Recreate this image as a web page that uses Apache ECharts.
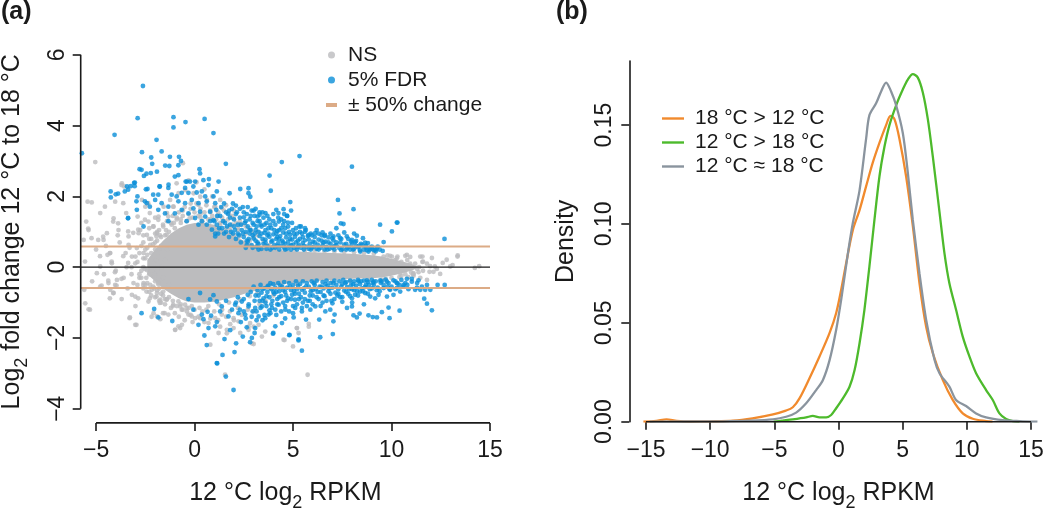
<!DOCTYPE html>
<html><head><meta charset="utf-8">
<script src="https://cdn.jsdelivr.net/npm/echarts@6/dist/echarts.min.js"></script>
<style>html,body{margin:0;padding:0;background:#fff}#c{width:1050px;height:509px}</style>
</head><body><div id="c"></div>
<script>
// ---------- Panel (a): MA plot ----------
const aXTicks = [-5, 0, 5, 10, 15];
const aYTicks = [-4, -2, 0, 2, 4, 6];
const changeLevels = [0.585, -0.585];   // log2(1.5)
// dense non-significant core (upper / lower envelope)
const coreX  = [-2.4,-2.0,-1.6,-1.2,-0.8,-0.4,0.0,0.5,1.0,1.5,2.0,2.5,3.0,3.5,4.0,5.0,6.0,7.0,8.0,9.0,9.5,10.0,10.5,11.0,11.3];
const coreHi = [0.2,0.5,0.75,0.95,1.1,1.2,1.25,1.25,1.2,1.05,0.9,0.75,0.62,0.55,0.5,0.45,0.42,0.4,0.38,0.34,0.3,0.24,0.17,0.1,0.02];
const coreLo = [-0.2,-0.4,-0.6,-0.75,-0.88,-0.97,-1.0,-1.0,-0.98,-0.92,-0.85,-0.76,-0.68,-0.6,-0.52,-0.44,-0.39,-0.36,-0.33,-0.31,-0.29,-0.24,-0.18,-0.1,-0.03];
const nsPts = [
[-5.04,2.97],[-5.43,1.85],[-5.22,1.83],[-5.5,1.29],[-5.38,1.05],[-5.63,0.77],[-5.55,-1.02],[-5.38,-1.19],[-4.96,-0.17],[-4.79,1.53],[-4.62,0.77],[-4.45,0.96],[-4.42,0.35],[-4.28,0.4],[-4.37,-0.45],[-4.28,-0.64],[-4.11,-0.73],[-4.03,-0.5],[-3.94,-0.36],[-4.2,0.11],[-4.79,0.02],[-4.79,-0.55],[-4.03,1.85],[-4.11,1.38],[-3.86,1.05],[-3.69,2.37],[-3.57,2.28],[-3.47,1.53],[-3.35,0.87],[-3.35,0.63],[-3.3,-1.44],[-3.01,-1.63],[-3.18,-0.78],[-3.01,-0.83],[-3.01,0.11],[-3.18,0.3],[-2.93,0.54],[-2.84,0.96],[-2.76,1.05],[-2.89,1.43],[-2.67,1.9],[-2.5,1.71],[-2.34,1.29],[-2.42,0.91],[-2.25,0.63],[-2.59,0.4],[-2.42,-0.08],[-2.59,-0.45],[-2.17,-0.64],[-2.34,-0.97],[-2.08,-1.3],[-1.91,-1.39],[-1.74,-1.47],[-1.52,-1.3],[-0.98,-1.77],[-0.73,-1.72],[-0.64,-1.63],[-1.91,-0.73],[-1.74,-0.92],[-1.83,-0.45],[-2.0,-0.17],[-1.95,0.21],[-1.74,0.54],[-1.91,0.96],[-2.08,1.15],[-1.83,1.43],[-1.57,1.71],[-1.4,1.53],[-1.24,1.9],[-1.07,1.71],[-0.81,2.09],[-0.47,2.18],[-0.59,2.94],[-0.05,2.09],[0.29,1.99],[0.2,1.76],[0.63,1.9],[1.05,1.71],[1.39,1.67],[1.73,1.53],[1.98,1.38],
[-5.4,1.09],[-5.23,0.82],[-4.89,0.77],[-4.64,0.86],[-4.55,1.71],[-4.13,1.29],[-3.88,1.24],[-3.71,2.32],[-3.62,1.81],[-3.37,1.01],[-3.11,0.97],[-2.86,1.06],[-2.52,1.34],[-2.35,1.81],[-2.27,1.53],[-2.1,1.15],[-1.93,0.87],[-1.84,1.34],[-1.59,1.15],[-1.42,0.92],[-1.33,1.43],[-1.16,1.2],[-1.08,1.71],[-0.91,2.37],[-4.3,0.4],[-4.21,0.16],[-4.8,0.31],[-5.56,0.16],[-3.62,0.31],[-3.37,0.12],
[-5.6,-0.64],[-5.31,-1.2],[-4.72,-0.52],[-4.3,-0.88],[-4.13,-0.73],[-3.96,-0.52],[-3.28,-1.42],[-2.95,-1.63],[-2.86,-0.88],[-2.6,-0.5],[-2.44,-0.69],[-2.27,-0.88],[-2.18,-1.4],[-1.93,-0.83],[-1.76,-1.01],[-1.59,-0.69],[-1.42,-0.92],[-1.33,-1.34],[-0.99,-1.77],[-0.82,-1.67],[-1.08,-1.06],[-0.82,-0.97],[-0.65,-1.2],[-0.48,-1.06],[-0.31,-1.34],[-0.14,-1.1],[0.03,-1.44],[-3.2,-0.2],[-3.45,0.0],[-4.04,-0.14],[-4.38,-0.38],[-3.71,-0.33],[-2.02,-0.24],[-1.84,-0.48],[-2.52,-0.05],
[-0.73,-1.11],[-0.39,-1.25],[-0.14,-1.39],[0.29,-1.44],[0.71,-1.58],[0.8,-2.19],[1.22,-1.86],[1.64,-1.77],[1.98,-1.72],[2.32,-1.86],[2.74,-1.77],[2.91,-2.15],[3.0,-1.68],[3.42,-1.96],[4.52,-2.05],[5.0,-2.24],[5.74,-3.04],[5.19,-1.72],[5.28,-1.86],[5.8,-1.6],
[1.3,-1.68],[1.81,-1.61],[1.98,-1.44],[2.74,-1.68],[2.82,-1.58],[3.0,-2.17],[1.64,-1.87],[5.2,-1.72],[5.8,-1.68],[4.57,-2.06],[1.55,-3.04],[1.05,-1.44],[1.38,-1.34],[2.23,-1.53],[3.25,-1.63],[3.59,-1.82],
[0.5,2.2],[0.9,2.0],[1.3,1.9],[1.6,1.75],[2.0,1.6],[2.3,1.3],[2.6,1.15],[2.9,1.0],[3.2,0.9],[0.1,2.4],[-0.3,2.45],[0.8,1.55],[1.2,1.45],[1.5,1.3],[1.9,1.2],[2.2,1.1],[-0.2,1.8],[0.3,1.5],[-0.6,1.6],[-0.9,1.4],
[-2.8,0.4],[-2.6,0.7],[-2.4,0.55],[-2.3,0.8],[-2.1,0.65],[-2.0,0.95],[-1.9,0.75],[-1.8,1.05],[-1.7,0.85],[-1.6,1.2],[-1.5,0.9],[-1.4,1.3],[-1.3,1.0],[-1.2,1.25],[-1.1,1.45],[-1.0,1.1],[-0.9,1.35],[-0.8,1.55],[-0.7,1.25],[-0.6,1.45],[-0.5,1.7],[-0.4,1.3],[-0.3,1.5],[-0.2,1.65],[-0.1,1.4],[0.0,1.55],[0.1,1.8],[0.2,1.45],[0.3,1.65],[0.4,1.3],[0.5,1.55],[0.6,1.75],[0.7,1.35],[0.8,1.6],[0.9,1.45],[1.0,1.7],[1.1,1.35],[1.2,1.55],[1.3,1.2],[1.4,1.4],[1.5,1.6],[1.6,1.1],[1.7,1.35],[1.8,1.15],[1.9,1.45],[2.0,0.9],[2.1,1.25],[2.2,1.05],[2.4,1.2],[2.6,0.95],[2.8,1.1],[3.0,0.85],[3.2,1.0],[3.5,0.75],[3.8,0.62],
[-2.8,-0.3],[-2.6,-0.6],[-2.4,-0.45],[-2.3,-0.7],[-2.1,-0.55],[-2.0,-0.85],[-1.9,-0.65],[-1.8,-0.95],[-1.6,-0.8],[-1.5,-1.05],[-1.3,-0.85],[-1.2,-1.15],[-1.1,-0.95],[-1.0,-1.3],[-0.9,-1.1],[-0.8,-1.4],[-0.6,-1.2],[-0.5,-1.5],[-0.4,-1.15],[-0.2,-1.35],[-0.1,-1.55],[0.0,-1.2],[0.2,-1.4],[0.4,-1.25],[0.5,-1.55],[0.6,-1.2],[0.8,-1.45],[1.0,-1.25],[1.2,-1.5],[1.4,-1.2],[1.6,-1.4],[1.8,-1.25],[2.0,-1.5],[2.2,-1.15],[2.4,-1.35],[2.7,-1.2],[3.0,-1.25],[3.3,-1.05],[3.6,-0.95],[4.0,-0.8],
[-3.3,0.55],[-3.1,-0.45],[-2.9,0.15],[-2.7,-0.1],[-2.5,0.25],[-3.4,-0.6],[-3.9,0.9],[-3.7,-0.9],[-4.5,0.6],[-4.6,-0.2],[-5.0,0.5],[-5.2,-0.4],[-3.0,-1.1],[-2.7,1.25],[-2.0,1.4],[-1.6,-1.3],
[-3.0,0.3],[-2.8,-0.2],[-2.7,0.6],[-2.6,0.0],[-2.5,-0.5],[-2.4,0.35],[-2.3,-0.2],[-2.2,0.8],[-2.1,0.1],[-2.0,-0.4],[-2.0,0.5],[-1.9,-0.1],[-1.85,0.3],[-1.8,-0.6],[-1.7,0.0],[-1.7,0.6],[-1.6,-0.3],[-1.5,0.2],[-1.5,-0.9],[-1.4,0.5],[-1.3,-0.5],[-2.6,0.9],[-2.3,1.1],[-2.2,-0.8],[-1.9,1.0],[-1.7,-1.0],[-2.9,-0.5],[-3.2,0.0],[-3.5,0.4],[-3.6,-0.3],[-3.8,0.7],[-4.0,-0.1],
[9.5,-0.35],[10.0,-0.3],[10.5,-0.25],[11.0,-0.15],[10.8,0.2],[11.2,0.1],[11.4,0.0],
[3.2,0.66],[3.6,0.6],[4.1,0.56],[4.6,0.52],[5.1,0.5],[5.6,0.48],[6.1,0.47],[6.6,0.45],[7.1,0.44],[7.6,0.43],[8.1,0.42],[8.6,0.4],[9.1,0.38],[9.8,0.33],[10.3,0.3],
[3.2,-0.72],[3.8,-0.6],[4.4,-0.52],[5.2,-0.47],[6.1,-0.42],[7.0,-0.4],[7.9,-0.37],[8.8,-0.35],[9.7,-0.33],[10.4,-0.28],[11.1,-0.2],[11.6,-0.1],[11.8,0.1],[12.3,-0.05],[12.6,0.12],
[-2.6,0.25],[-2.7,-0.3],[-2.5,0.5],[-2.45,-0.3],[-2.2,0.4],[-2.25,-0.5],[-2.0,0.7],[-2.05,-0.6],[-1.75,0.9],[-1.7,-0.75],[-1.45,1.05],[-1.4,-0.9],[-1.05,1.25],[-1.1,-1.1],[-0.7,1.35],[-0.7,-1.05],[-0.25,1.38],[-0.3,-1.15],[0.3,1.4],[0.25,-1.15],[0.8,1.35],[0.7,-1.1],[1.3,1.25],[1.25,-1.05],[1.8,1.05],[1.75,-1.0],[2.3,0.88],[2.3,-0.92],[2.8,0.75],[2.8,-0.82],
[10.78,0.35],[11.57,0.3],[11.57,0.15],[11.93,-0.13],[12.13,-0.13],[12.47,-0.19],[13.1,0.06],[13.36,0.33],[14.45,0.03],[10.02,0.3],[10.27,0.25],[10.5,0.15],[10.95,0.1],[11.3,-0.05],[11.37,-0.14],[11.12,-0.24],[10.86,-0.28],[11.96,0.03],[12.2,0.02],[11.8,-0.36],[11.46,-0.3],[11.12,-0.17],[10.7,-0.2],[10.44,-0.17],[12.98,0.02],[9.93,0.32],[10.19,0.2],[10.7,0.32],[10.95,0.29],[11.46,0.3],[11.6,0.16],[12.05,0.26],[12.8,0.21],[13.35,0.3],[14.23,-0.02],[9.6,0.3],[9.43,0.2]
];
const fdrUpper = [
[-5.72,3.22],[-4.06,3.74],[-2.62,5.12],[-2.89,4.21],[-1.07,4.24],[-1.07,3.95],[-0.46,4.1],[0.51,4.19],[0.96,3.79],[-1.93,3.6],[-2.67,3.25],[-1.67,3.27],[-2.2,3.1],[-1.25,3.12],[-0.79,3.12],[-0.69,3.0],[-2.15,2.92],[-1.49,2.87],[-0.82,2.88],[-1.28,2.86],[-2.79,2.77],[-2.69,2.75],[-1.91,2.7],[-2.57,2.58],[-2.44,2.64],[-2.22,2.66],[0.25,2.77],[0.28,2.65],[1.59,2.92],[5.33,3.14],[4.43,2.97],[7.99,2.84],[3.81,2.59],
[-0.39,2.42],[-0.45,2.42],[-0.23,2.42],[0.03,2.42],[0.45,2.46],[0.73,2.49],[1.22,2.42],[-3.03,2.39],[-3.43,2.28],[-4.26,2.14],[-4.25,1.97],[-4.0,2.06],[-3.88,2.08],[-3.54,2.14],[-3.37,2.19],[-3.24,2.29],[-3.07,2.38],[-3.04,2.29],[-2.47,2.2],[-2.39,2.21],[-1.78,2.28],[-1.32,2.33],[-1.0,2.56],[-0.82,2.6],[-2.1,2.05],[-1.84,2.05],[-2.0,1.9],[-1.76,2.28],[-1.33,2.24],[-0.06,2.28],[-0.48,2.24],[0.71,2.32],[-1.16,2.05],[-0.91,2.0],[-0.65,2.1],[-0.31,2.1],[0.11,2.11],[0.37,2.14],[0.54,2.0],[-0.82,1.86],[-0.48,1.81],[-0.14,1.9],[0.2,1.81],[0.62,1.86],[0.96,2.0],[1.05,1.81],[-1.67,1.81],[-1.33,1.71],[-2.27,1.71],[-2.52,1.86],[-2.9,2.0],[-3.37,1.39],[-2.95,1.86],[-1.0,1.52],[-0.65,1.62],[-0.31,1.52],[-0.06,1.66],[0.28,1.57],[0.54,1.43],[0.79,1.57],[0.96,1.33],[0.03,1.39],[-0.4,1.3],[-1.33,1.3],[-1.5,1.52],[-1.84,1.62],[0.62,1.2],[0.88,1.06],[1.05,0.87],[0.2,1.2],[0.37,1.3],[1.13,1.2],[0.79,1.3],
[2.32,2.21],[2.74,2.23],[2.74,2.09],[2.83,1.99],[3.87,2.16],[1.78,2.09],[1.13,2.14],[4.86,1.84],[4.15,1.62],[4.52,1.64],[4.55,1.5],[4.26,1.53],[4.74,1.26],[4.7,1.45],[4.28,1.29],[7.28,1.9],[7.36,1.52],[7.56,1.22],[8.07,1.64],[3.0,1.6],[3.2,1.43],[3.3,1.48],[3.6,1.53],[2.5,1.41],[2.1,1.74],[1.76,1.6],[-3.38,1.38],[-2.93,1.62],[-2.42,1.81],[-2.59,1.15],[10.27,1.26],[9.42,1.2],[10.02,1.01],[12.69,0.8],[7.43,1.24],[10.3,1.26],[9.6,0.71],[8.24,0.89],[8.55,0.82],[8.15,0.71],[8.66,0.69],[8.92,0.55],[9.17,0.5],[8.41,0.44],[8.83,0.44],[5.33,1.15],[5.61,1.1],[5.78,0.91],[6.12,0.96],[6.62,0.91],[7.05,0.87],[7.39,0.82],[7.73,0.87],[7.99,0.77],
[2.6,0.55],[2.7,0.72],[2.8,0.95],[2.9,0.62],[3.0,0.81],[3.1,1.05],[3.15,0.58],[3.2,0.7],[3.3,0.88],[3.35,1.2],[3.4,0.52],[3.5,0.66],[3.55,0.97],[3.6,0.78],[3.7,0.6],[3.75,1.1],[3.8,0.86],[3.85,0.5],[3.9,0.72],[4.0,0.93],[4.05,0.63],[4.1,0.55],[4.15,0.8],[4.2,1.02],[4.25,0.68],[4.3,0.5],[4.35,0.88],[4.4,0.6],[4.45,0.75],[4.5,0.98],[4.55,0.55],[4.6,0.66],[4.65,0.84],[4.7,0.52],[4.75,0.72],[4.8,0.6],[4.85,0.92],[4.9,0.5],[4.95,0.78],[5.0,0.64],[5.05,0.55],[5.1,0.86],[5.15,0.7],[5.2,0.5],[5.3,0.62],[5.35,0.8],[5.4,0.55],[5.45,0.95],[5.5,0.68],[5.55,0.5],[5.6,0.76],[5.7,0.58],[5.75,0.88],[5.8,0.52],[5.85,0.66],[5.9,0.5],[6.0,0.72],[6.05,0.58],[6.1,0.85],[6.2,0.52],[6.25,0.64],[6.3,0.78],[6.4,0.55],[6.45,0.9],[6.5,0.62],[6.6,0.5],[6.65,0.72],[6.7,0.57],[6.8,0.84],[6.85,0.52],[6.9,0.66],[7.0,0.55],[7.05,0.76],[7.1,0.5],[7.2,0.62],[7.3,0.9],[7.35,0.54],[7.4,0.7],[7.5,0.52],[7.6,0.64],[7.7,0.5],[7.8,0.8],[7.85,0.58],[7.9,0.5],[8.0,0.66],[8.1,0.52],[8.2,0.74],[8.3,0.56],[8.4,0.48],[8.5,0.62],[8.6,0.5],[8.7,0.55],[8.8,0.68],[8.9,0.5],[9.0,0.58],[9.1,0.48],[9.25,0.52],[9.4,0.5],[9.55,0.46],
[1.0,1.3],[1.1,1.62],[1.2,0.95],[1.3,1.45],[1.4,1.1],[1.5,1.8],[1.55,1.25],[1.6,1.0],[1.7,1.5],[1.75,0.85],[1.8,1.2],[1.9,1.65],[1.95,0.95],[2.0,1.35],[2.05,1.05],[2.1,0.8],[2.15,1.55],[2.2,1.2],[2.25,0.9],[2.3,1.4],[2.35,0.7],[2.4,1.05],[2.45,1.7],[2.5,0.85],[2.55,1.25],[2.6,1.0],[2.65,1.5],[2.7,1.15],[2.75,0.8],[2.8,1.35],[2.85,1.05],[2.9,1.6],[2.95,0.9],[3.0,1.2],[3.05,1.45],[3.1,0.75],[3.2,1.3],[3.25,1.0],[3.3,1.55],[3.4,1.15],[3.45,0.8],[3.5,1.4],[3.6,1.05],[3.65,1.25],[3.7,0.9],[3.8,1.35],[3.9,1.1],[4.0,1.5],[4.1,1.2],[4.2,0.85],[4.3,1.05],[4.4,1.35],[4.5,1.2],[4.6,1.1],[4.7,1.45],[4.8,1.0],[4.9,1.6],[5.0,1.05],[5.2,0.95],[5.4,1.15],[5.6,1.0],[5.9,0.95],[6.2,1.05],[6.5,0.98],[6.9,0.95],[7.2,1.1],[7.6,0.98],[8.1,0.95],
[1.05,0.95],[1.15,1.45],[1.25,1.1],[1.35,1.7],[1.45,1.3],[1.5,0.95],[1.6,1.55],[1.65,1.15],[1.8,1.4],[1.85,1.0],[1.95,1.8],[2.0,1.15],[2.1,1.5],[2.2,0.95],[2.3,1.65],[2.35,1.2],[2.45,0.95],[2.5,1.55],[2.6,1.3],[2.65,0.75],[2.7,1.7],[2.8,1.05],[2.85,1.45],[2.95,1.25],[3.05,0.95],[3.1,1.65],[3.15,1.15],[3.25,0.65],[3.3,1.3],[3.4,0.95],[3.45,1.55],[3.55,1.2],[3.6,0.7],[3.7,1.45],[3.75,0.95],[3.85,1.2],[3.95,0.75],[4.0,1.3],[4.05,1.05],[4.15,0.95],[4.25,1.4],[4.3,0.8],[4.4,1.1],[4.5,0.7],[4.55,1.3],[4.65,0.95],[4.75,1.15],[4.85,0.8],[4.95,1.25],[5.05,0.95],[5.15,1.1],[5.25,0.75],[5.35,1.0],[5.5,0.85],[5.65,1.05],[5.8,0.78],[5.95,0.9],[6.1,0.7],[6.3,0.95],[6.45,0.75],[6.6,0.88],[6.8,0.7],[7.0,0.82],[7.2,0.7],[7.45,0.8],[7.7,0.66],[7.95,0.72],[8.2,0.6],[8.45,0.66],[8.7,0.6],[9.0,0.52],[9.3,0.58],
[2.65,0.62],[2.95,0.55],[3.25,0.5],[3.65,0.52],[3.95,0.55],[4.2,0.6],[4.6,0.5],[4.9,0.62],[5.25,0.58],[5.55,0.6],[5.95,0.55],[6.3,0.5],[6.55,0.7],[6.75,0.5],[7.1,0.6],[7.45,0.48],[7.75,0.55],[8.05,0.5],[8.35,0.6],[8.75,0.48],[9.2,0.45]
];
const fdrLower = [
[-2.69,-1.3],[-2.05,-1.18],[-1.84,-1.42],[-1.13,-1.52],[-0.31,-0.9],[-0.06,-1.2],[0.2,-1.63],[0.28,-0.73],[0.45,-1.47],[0.5,-1.93],[0.62,-2.2],[0.66,-1.26],[0.71,-1.72],[0.84,-1.37],[0.96,-0.79],[1.05,-1.67],[1.13,-1.55],[1.13,-2.71],[0.79,-0.91],[0.37,-1.34],
[1.15,-2.72],[1.42,-2.48],[1.59,-3.09],[1.98,-3.47],[2.03,-2.4],[2.11,-2.15],[1.52,-2.03],[1.81,-1.78],[2.45,-1.96],[2.82,-2.12],[2.91,-2.0],[3.05,-1.86],[3.08,-1.72],[3.98,-1.88],[4.81,-1.92],[5.28,-2.07],[5.45,-2.36],[6.38,-1.98],[7.02,-1.89],[5.03,-1.42],[5.66,-1.48],[6.33,-1.48],[7.05,-1.53],[4.1,-1.67],[4.44,-1.58],[3.59,-1.44],[3.76,-1.34],[3.25,-1.39],[2.57,-1.34],[2.23,-1.3],[1.72,-1.39],[1.3,-1.25],[1.13,-0.97],[1.38,-1.11],[2.06,-1.06],[2.4,-0.97],[2.74,-1.11],[3.08,-1.15],[3.42,-1.11],[3.93,-1.15],[4.27,-1.06],[4.61,-1.2],[5.11,-1.15],[5.45,-1.25],[5.88,-1.2],[6.13,-1.11],[6.64,-1.25],[6.89,-1.2],[7.11,-1.34],[7.74,-1.15],[7.99,-1.11],[4.82,-1.91],[5.28,-2.04],[4.0,-1.86],
[8.24,-1.42],[8.07,-1.36],[8.38,-1.31],[8.83,-1.36],[9.05,-1.41],[9.26,-1.42],[9.51,-1.27],[9.9,-1.44],[10.41,-1.23],[9.85,-1.14],[12.05,-1.22],[11.8,-1.03],[11.66,-0.89],[12.34,-0.5],[12.7,-0.5],[11.97,-0.64],[11.71,-0.64],[11.46,-0.64],[11.2,-0.64],[11.37,-0.37],[11.03,-0.41],[10.78,-0.33],[10.61,-0.5],[10.27,-0.59],[9.93,-0.64],[9.6,-0.59],[9.34,-0.78],[9.17,-0.88],[8.92,-0.83],[8.66,-0.73],[8.4,-0.69],[8.15,-0.78],[7.99,-0.88],[9.77,-0.83],[10.1,-0.78],[10.44,-0.69],[10.86,-0.62],[11.29,-0.58],[11.54,-0.55],[10.1,-0.37],[9.77,-0.41],[9.43,-0.37],[9.09,-0.41],[8.75,-0.37],[8.32,-0.4],[10.27,-0.45],[11.03,-0.33],
[3.0,-0.55],[3.1,-0.8],[3.2,-0.65],[3.3,-0.95],[3.35,-0.5],[3.4,-0.72],[3.5,-0.88],[3.55,-0.6],[3.6,-1.0],[3.7,-0.7],[3.75,-0.52],[3.8,-0.85],[3.9,-0.62],[3.95,-0.95],[4.0,-0.48],[4.05,-0.75],[4.1,-0.58],[4.2,-0.9],[4.25,-0.45],[4.3,-0.68],[4.4,-0.82],[4.45,-0.55],[4.5,-1.0],[4.55,-0.42],[4.6,-0.7],[4.7,-0.58],[4.75,-0.88],[4.8,-0.45],[4.9,-0.65],[4.95,-0.78],[5.0,-0.5],[5.1,-0.92],[5.15,-0.4],[5.2,-0.62],[5.3,-0.75],[5.35,-0.48],[5.4,-0.85],[5.5,-0.4],[5.55,-0.6],[5.6,-0.72],[5.7,-0.45],[5.75,-0.95],[5.8,-0.55],[5.9,-0.68],[5.95,-0.4],[6.0,-0.8],[6.1,-0.5],[6.15,-0.62],[6.2,-0.38],[6.3,-0.9],[6.35,-0.55],[6.4,-0.7],[6.5,-0.42],[6.55,-0.6],[6.6,-0.82],[6.7,-0.38],[6.75,-0.52],[6.8,-0.68],[6.9,-0.45],[6.95,-0.95],[7.0,-0.58],[7.1,-0.38],[7.15,-0.72],[7.2,-0.5],[7.3,-0.62],[7.35,-0.4],[7.4,-0.85],[7.5,-0.48],[7.55,-0.36],[7.6,-0.66],[7.7,-0.42],[7.75,-0.56],[7.8,-0.75],[7.9,-0.38],[7.95,-0.5],[8.0,-0.62],[8.1,-0.4],[8.2,-0.52],[8.3,-0.36],[8.4,-0.48],[8.5,-0.6],[8.6,-0.38],[8.7,-0.5],[8.8,-0.42],[8.9,-0.62],[9.0,-0.36],[9.1,-0.5],[9.2,-0.4],[9.3,-0.58],[9.45,-0.44],[9.6,-0.5],[9.7,-0.35],[9.85,-0.45],[10.0,-0.55],[10.2,-0.4],[10.4,-0.5],[10.5,-0.36],[10.7,-0.45],
[3.45,-0.62],[3.65,-0.82],[3.85,-0.45],[4.15,-0.7],[4.35,-0.52],[4.65,-0.8],[4.85,-0.55],[5.05,-0.68],[5.25,-0.52],[5.45,-0.64],[5.65,-0.55],[5.85,-0.8],[6.05,-0.45],[6.25,-0.7],[6.45,-0.55],[6.65,-0.48],[6.85,-0.6],[7.05,-0.45],[7.25,-0.8],[7.45,-0.55],[7.65,-0.45],[7.85,-0.62],[8.05,-0.48],[8.25,-0.68],[8.45,-0.4],[8.65,-0.56],[8.85,-0.5],[9.05,-0.45],[9.25,-0.65],[9.5,-0.4],[9.9,-0.62],[10.3,-0.46],[10.6,-0.55],
[1.6,-0.95],[1.9,-1.2],[2.2,-0.85],[2.5,-1.25],[2.7,-0.78],[2.9,-1.4],[2.35,-1.55],[2.65,-1.7],[3.15,-1.25],[3.45,-1.5],[3.8,-1.22],[4.15,-1.35],[4.6,-1.45],[5.0,-1.3],[5.5,-1.0],[6.0,-1.05],[6.5,-1.0],[7.0,-1.02],[7.5,-0.98],[8.0,-1.0],[8.6,-1.05],
[2.1,-1.0],[2.3,-1.2],[2.5,-0.9],[2.6,-1.45],[2.75,-1.05],[2.85,-0.7],[2.95,-1.25],[3.05,-0.95],[3.15,-1.5],[3.25,-0.8],[3.35,-1.15],[3.45,-0.95],[3.55,-1.35],[3.65,-1.1],[3.7,-0.55],[3.85,-1.3],[3.9,-1.05],[4.0,-0.7],[4.1,-1.2],[4.2,-1.05],[4.3,-0.85],[4.4,-1.25],[4.5,-0.65],[4.6,-1.1],[4.7,-0.95],[4.8,-1.25],[4.9,-0.9],[5.0,-1.1],[5.1,-0.75],[5.2,-1.05],[5.3,-0.9],[5.45,-1.15],[5.6,-0.9],[5.7,-1.1],[5.85,-0.95],[6.0,-0.65],[6.2,-0.85],[6.4,-1.1],[6.55,-0.8],[6.7,-0.95],[6.9,-0.75],[7.1,-0.9],[7.3,-0.75],[7.5,-0.85],[7.7,-0.7],[7.9,-0.82],[8.1,-0.65],[8.3,-0.8],[8.55,-0.68],[8.8,-0.75],[9.0,-0.6],[9.4,-0.68],[9.8,-0.55],[10.2,-0.62],[10.8,-0.5],[11.3,-0.45],[11.8,-0.5]
];

// ---------- Panel (b): density curves ----------
const bXTicks = [-15, -10, -5, 0, 5, 10, 15];
const bYTicks = [0, 0.05, 0.10, 0.15];
const dens18gt12 = [[-15.2,0],[-14.2,0.0004],[-13.4,0.0012],[-12.6,0.0004],[-11.5,0.0001],[-10,0.0002],[-8.2,0.0005],[-6.7,0.0017],[-5.1,0.0037],[-4.1,0.0056],[-3.56,0.0073],[-3.04,0.0118],[-2.26,0.022],[-1.48,0.033],[-0.7,0.0448],[-0.18,0.055],[0.21,0.0668],[0.6,0.0803],[1.12,0.097],[1.64,0.107],[2.15,0.119],[2.67,0.131],[3.19,0.141],[3.71,0.15],[4.05,0.1547],[4.36,0.153],[4.75,0.143],[5.27,0.124],[5.79,0.099],[6.31,0.07],[6.83,0.048],[7.35,0.0346],[8.13,0.021],[8.9,0.011],[9.68,0.0042],[10.46,0.0015],[11.5,0.0003],[12.0,0]];
const dens12gt18 = [[-5.06,0],[-4.3,0.0006],[-3.56,0.0012],[-2.52,0.0022],[-2.0,0.0029],[-1.48,0.0022],[-0.96,0.0022],[-0.57,0.0034],[-0.18,0.0068],[0.34,0.0118],[0.86,0.0177],[1.25,0.026],[1.64,0.0397],[2.02,0.0566],[2.41,0.0786],[2.8,0.102],[3.19,0.124],[3.58,0.139],[3.97,0.15],[4.49,0.16],[5.01,0.168],[5.4,0.173],[5.79,0.1758],[6.18,0.174],[6.57,0.1665],[6.96,0.153],[7.35,0.134],[7.87,0.106],[8.26,0.085],[8.64,0.07],[9.16,0.0566],[9.68,0.043],[10.2,0.033],[10.72,0.0245],[11.5,0.016],[12.02,0.011],[12.54,0.0042],[13.06,0.0014],[13.58,0.0003],[14.1,0]];
const dens12eq18 = [[-14.7,0],[-12,0.0001],[-9,0.0002],[-7,0.0005],[-5.1,0.0012],[-4.08,0.0025],[-3.3,0.0046],[-2.52,0.0093],[-1.74,0.016],[-1.22,0.021],[-0.7,0.031],[-0.18,0.0465],[0.21,0.0617],[0.73,0.085],[1.12,0.1006],[1.64,0.117],[2.15,0.143],[2.41,0.155],[2.93,0.161],[3.32,0.167],[3.71,0.1715],[4.1,0.167],[4.49,0.16],[5.01,0.146],[5.4,0.126],[5.79,0.102],[6.31,0.075],[6.83,0.0515],[7.48,0.0313],[7.87,0.0245],[8.64,0.0177],[9.16,0.011],[9.94,0.0079],[10.72,0.0042],[11.5,0.0022],[12.8,0.0008],[14.1,0.0003],[15.5,0]];
const bNames = ['18 \u00b0C > 12 \u00b0C', '12 \u00b0C > 18 \u00b0C', '12 \u00b0C \u2248 18 \u00b0C'];

// ---------- styling ----------
const FONT = '"Liberation Sans", Arial, Helvetica, sans-serif';
const INK = '#1a1a1a';
const NS_C = '#bcbcbe', FDR_C = '#0a8fd8', TAN_C = '#dcab86';
const B_COLORS = ['#f18a2d', '#4dba2c', '#8a949e'];
const A_XMIN = -5.78, A_XMAX = 15, A_YMIN = -4.4, A_YMAX = 6.4;
const B_XMIN = -16.3, B_XMAX = 16.3, B_YMIN = 0, B_YMAX = 0.1824;
const DOT = 4.8;
const minus = v => (v < 0 ? '\u2212' + Math.abs(v) : String(v));

const tickStyle = {show: true, length: 8, lineStyle: {color: INK, width: 1.6}};
const labelBase = {fontSize: 23, color: INK, fontFamily: FONT};
const richName = {
  a: {fontSize: 25, color: INK, fontFamily: FONT},
  s: {fontSize: 18, color: INK, fontFamily: FONT, padding: [20, 0, 0, 0]}
};
const axisLineSeries = (xi, pts) => ({
  type: 'line', xAxisIndex: xi, yAxisIndex: xi, data: pts, symbol: 'none', silent: true,
  clip: false, z: 6, lineStyle: {color: INK, width: 1.6}
});
const hLine = (name, y, color, width) => ({
  type: 'line', name, xAxisIndex: 0, yAxisIndex: 0, data: [[A_XMIN, y], [A_XMAX, y]],
  symbol: 'none', silent: true, z: 5, lineStyle: {color, width}, itemStyle: {color}
});
const noLine = {show: false, onZero: false};

const option = {
  animation: false,
  backgroundColor: '#fff',
  title: [
    {text: '(a)', left: 1, top: 0, padding: 0, textStyle: {fontSize: 25, fontWeight: 'bold', fontFamily: FONT, color: INK}},
    {text: '(b)', left: 556, top: 0, padding: 0, textStyle: {fontSize: 25, fontWeight: 'bold', fontFamily: FONT, color: INK}}
  ],
  legend: [
    {orient: 'vertical', left: 326, top: 44.5, padding: 0, itemWidth: 11, itemHeight: 7, itemGap: 4,
     textStyle: {fontSize: 21, fontFamily: FONT, color: INK, padding: [0, 0, 0, 6]},
     data: [{name: 'NS', icon: 'circle'}, {name: '5% FDR', icon: 'circle'},
            {name: '\u00b1 50% change', icon: 'path://M0,0 L11,0 L11,4 L0,4 Z', itemStyle: {color: TAN_C}}]},
    {orient: 'vertical', left: 662, top: 108, padding: 0, itemWidth: 22, itemHeight: 2.4, itemGap: 3,
     textStyle: {fontSize: 21, fontFamily: FONT, color: INK, padding: [0, 0, 0, 6]},
     data: bNames.map(n => ({name: n, icon: 'rect'}))}
  ],
  grid: [
    {left: 80.7, top: 40.7, width: 409.3, height: 382.2, outerBoundsMode: 'none', containLabel: false},
    {left: 629.3, top: 61, width: 418.4, height: 360.7, outerBoundsMode: 'none', containLabel: false}
  ],
  xAxis: [
    {gridIndex: 0, type: 'value', min: A_XMIN, max: A_XMAX, axisLine: noLine, splitLine: {show: false},
     axisTick: Object.assign({customValues: aXTicks}, tickStyle),
     axisLabel: Object.assign({customValues: aXTicks, formatter: minus, margin: 16}, labelBase),
     name: '{a|12 \u00b0C log}{s|2}{a| RPKM}', nameLocation: 'middle', nameGap: 51,
     nameTextStyle: {rich: richName}},
    {gridIndex: 1, type: 'value', min: B_XMIN, max: B_XMAX, axisLine: noLine, splitLine: {show: false},
     axisTick: Object.assign({customValues: bXTicks}, tickStyle),
     axisLabel: Object.assign({customValues: bXTicks, formatter: minus, margin: 17}, labelBase),
     name: '{a|12 \u00b0C log}{s|2}{a| RPKM}', nameLocation: 'middle', nameGap: 52,
     nameTextStyle: {rich: richName}}
  ],
  yAxis: [
    {gridIndex: 0, type: 'value', min: A_YMIN, max: A_YMAX, axisLine: noLine, splitLine: {show: false},
     axisTick: Object.assign({customValues: aYTicks}, tickStyle),
     axisLabel: Object.assign({customValues: aYTicks, formatter: minus, rotate: 90, margin: 12}, labelBase),
     name: '{a|Log}{s|2}{a| fold change 12 \u00b0C to 18 \u00b0C}', nameLocation: 'middle', nameRotate: 90, nameGap: 50,
     nameTextStyle: {rich: richName}},
    {gridIndex: 1, type: 'value', min: B_YMIN, max: B_YMAX, splitLine: {show: false},
     axisLine: {show: true, onZero: false, lineStyle: {color: INK, width: 1.6}},
     axisTick: Object.assign({customValues: bYTicks}, tickStyle),
     axisLabel: Object.assign({customValues: bYTicks, formatter: v => v.toFixed(2), rotate: 90, margin: 13}, labelBase),
     name: 'Density', nameLocation: 'middle', nameRotate: 90, nameGap: 51,
     nameTextStyle: {fontSize: 25, color: INK, fontFamily: FONT}}
  ],
  series: [
    {type: 'scatter', name: 'NS', xAxisIndex: 0, yAxisIndex: 0, data: nsPts, symbolSize: DOT, z: 2,
     itemStyle: {color: NS_C}, silent: true},
    {type: 'custom', name: 'NS', xAxisIndex: 0, yAxisIndex: 0, z: 1, silent: true,
     data: coreX.map((x, i) => [x, coreLo[i], coreHi[i]]), encode: {x: 0, y: [1, 2]},
     itemStyle: {color: NS_C},
     renderItem: (params, api) => {
       if (params.dataIndex !== 0) return null;
       const top = coreX.map((x, i) => api.coord([x, coreHi[i]]));
       const bot = coreX.map((x, i) => api.coord([x, coreLo[i]])).reverse();
       return {type: 'polygon', shape: {points: top.concat(bot)}, style: {fill: NS_C}};
     }},
    {type: 'scatter', name: '5% FDR', xAxisIndex: 0, yAxisIndex: 0, data: fdrUpper.concat(fdrLower),
     symbolSize: DOT, z: 3, itemStyle: {color: FDR_C}, silent: true},
    hLine('\u00b1 50% change', changeLevels[0], TAN_C, 2),
    hLine('\u00b1 50% change', changeLevels[1], TAN_C, 2),
    hLine('zero', 0, INK, 1.2),
    axisLineSeries(0, [[A_XMIN, aYTicks[0]], [A_XMIN, aYTicks[aYTicks.length - 1]]]),
    axisLineSeries(0, [[aXTicks[0], A_YMIN], [aXTicks[aXTicks.length - 1], A_YMIN]]),
    axisLineSeries(1, [[bXTicks[0], B_YMIN], [bXTicks[bXTicks.length - 1], B_YMIN]]),
    {type: 'line', name: bNames[0], xAxisIndex: 1, yAxisIndex: 1, data: dens18gt12, symbol: 'none', smooth: 0.3,
     lineStyle: {color: B_COLORS[0], width: 2.3}, itemStyle: {color: B_COLORS[0]}, z: 3},
    {type: 'line', name: bNames[1], xAxisIndex: 1, yAxisIndex: 1, data: dens12gt18, symbol: 'none', smooth: 0.3,
     lineStyle: {color: B_COLORS[1], width: 2.3}, itemStyle: {color: B_COLORS[1]}, z: 3},
    {type: 'line', name: bNames[2], xAxisIndex: 1, yAxisIndex: 1, data: dens12eq18, symbol: 'none', smooth: 0.3,
     lineStyle: {color: B_COLORS[2], width: 2.3}, itemStyle: {color: B_COLORS[2]}, z: 4}
  ]
};
const chart = echarts.init(document.getElementById('c'), null, {renderer: 'canvas'});
chart.setOption(option);
</script>
</body></html>
